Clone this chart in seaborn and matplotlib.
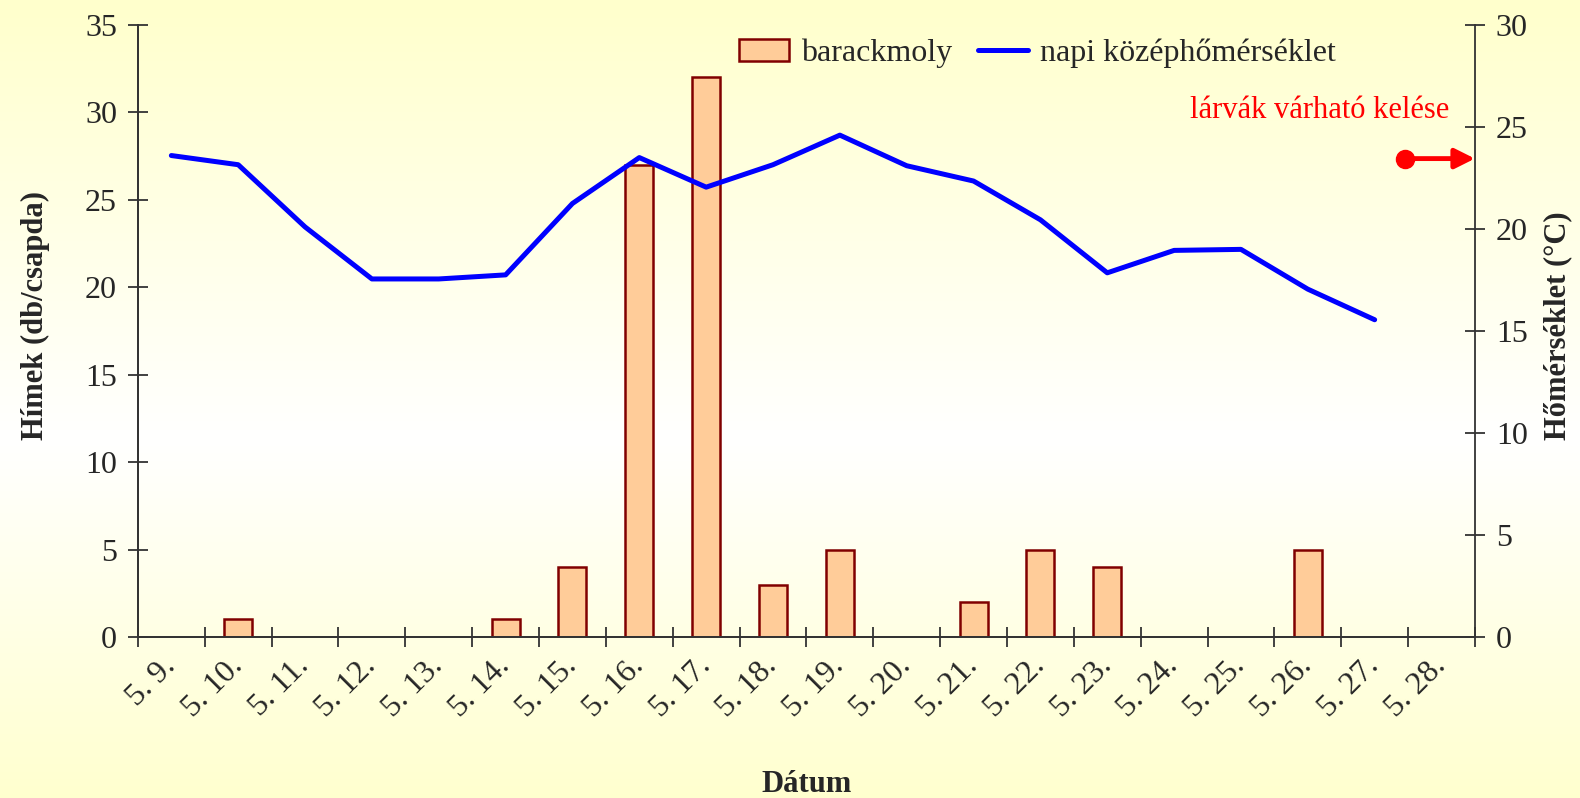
import matplotlib
matplotlib.use('Agg')
import matplotlib.pyplot as plt
from matplotlib.patches import Patch
import numpy as np
import pandas as pd
import seaborn as sns

# trap catches (males per trap) and daily mean temperature
dates = ['5. 9.', '5. 10.', '5. 11.', '5. 12.', '5. 13.', '5. 14.', '5. 15.',
         '5. 16.', '5. 17.', '5. 18.', '5. 19.', '5. 20.', '5. 21.', '5. 22.',
         '5. 23.', '5. 24.', '5. 25.', '5. 26.', '5. 27.', '5. 28.']
moth_counts = [0, 1, 0, 0, 0, 1, 4, 27, 32, 3, 5, 0, 2, 5, 4, 0, 0, 5, 0, 0]
mean_temp = [23.6, 23.15, 20.1, 17.55, 17.55, 17.75, 21.25, 23.5, 22.05, 23.15,
             24.6, 23.1, 22.35, 20.45, 17.85, 18.95, 19.0, 17.05, 15.55]

# marker for expected larval hatching
hatch_x = 18.45
hatch_temp = 23.45

sns.set_style('ticks')
plt.rcParams['font.family'] = ['Liberation Serif', 'DejaVu Serif']

bar_face = '#FFCC99'
bar_edge = '#800000'
axis_col = '#333333'

fig = plt.figure(figsize=(15.8, 7.98), dpi=100)

# pale yellow / white vertical gradient behind everything
bg = fig.add_axes([0, 0, 1, 1], zorder=-10)
t = np.linspace(0, 1, 400)
stops = [0.0, 0.55, 1.0]
r = np.full_like(t, 1.0)
g = np.full_like(t, 1.0)
b = np.interp(t, stops, [0.80, 1.0, 0.81])
grad = np.dstack([r, g, b]).reshape(400, 1, 3)
bg.imshow(grad, aspect='auto', extent=[0, 1, 0, 1])
bg.axis('off')

ax = fig.add_axes([0.0873, 0.2018, 0.8462, 0.7669])
ax.patch.set_visible(False)

df_bar = pd.DataFrame({'date': dates, 'count': moth_counts})
sns.barplot(data=df_bar, x='date', y='count', order=dates, ax=ax,
            color=bar_face, saturation=1, edgecolor=bar_edge,
            linewidth=1.8, width=0.42)
for p in ax.patches:
    if p.get_height() == 0:
        p.set_linewidth(0)

ax2 = ax.twinx()
df_line = pd.DataFrame({'pos': np.arange(len(mean_temp)), 'temp': mean_temp})
sns.lineplot(data=df_line, x='pos', y='temp', ax=ax2, color='#0000FF',
             linewidth=3.6)

ax.set_xlim(-0.5, len(dates) - 0.5)
ax.set_ylim(0, 35)
ax2.set_ylim(0, 30)
ax.set_yticks(range(0, 36, 5))
ax2.set_yticks(range(0, 31, 5))

ax.set_xticks(range(len(dates)))
ax.set_xticklabels(dates, rotation=45, ha='right', va='center',
                   rotation_mode='anchor')
ax.set_xticks(np.arange(-0.5, len(dates), 1), minor=True)
ax.tick_params(axis='x', which='major', length=0, pad=18, labelsize=23)
ax.tick_params(axis='x', which='minor', direction='inout', length=14,
               width=1.3, color=axis_col)
ax.tick_params(axis='y', direction='inout', length=14, width=1.3,
               color=axis_col, labelsize=23, pad=8)
ax2.tick_params(axis='y', direction='inout', length=14, width=1.3,
                color=axis_col, labelsize=23, pad=8)

for a in (ax, ax2):
    a.spines['top'].set_visible(False)
    for s in ('left', 'right', 'bottom'):
        a.spines[s].set_color(axis_col)
        a.spines[s].set_linewidth(1.3)
ax.spines['right'].set_visible(False)

ax.set_xlabel('Dátum', fontsize=22, fontweight='bold')
ax.set_ylabel('Hímek (db/csapda)', fontsize=22, fontweight='bold')
ax2.set_ylabel('Hőmérséklet (°C)', fontsize=22, fontweight='bold')
ax.xaxis.set_label_coords(0.5, -0.217)
ax.yaxis.set_label_coords(-0.066, 0.525)
ax2.yaxis.set_label_coords(1.051, 0.508)

# expected hatching annotation
ax2.plot([hatch_x], [hatch_temp], 'o', color='red', markersize=13,
         clip_on=False)
ax2.annotate('', xy=(len(dates) - 0.5, hatch_temp), xytext=(hatch_x, hatch_temp),
             arrowprops=dict(arrowstyle='-|>', color='red', lw=3.5,
                             mutation_scale=30, shrinkA=0, shrinkB=0),
             annotation_clip=False)
ax2.text(19.11, 25.8, 'lárvák várható kelése', color='red', ha='right',
         va='center', fontsize=22)

handles = [Patch(facecolor=bar_face, edgecolor=bar_edge, linewidth=1.8),
           ax2.get_lines()[0]]
labels = ['barackmoly', 'napi középhőmérséklet']
ax2.legend(handles, labels, loc='center', bbox_to_anchor=(0.673, 0.954),
           ncol=2, frameon=False, fontsize=23, handlelength=1.55,
           handletextpad=0.4, columnspacing=0.8)

fig.savefig('out.png', dpi=100)
